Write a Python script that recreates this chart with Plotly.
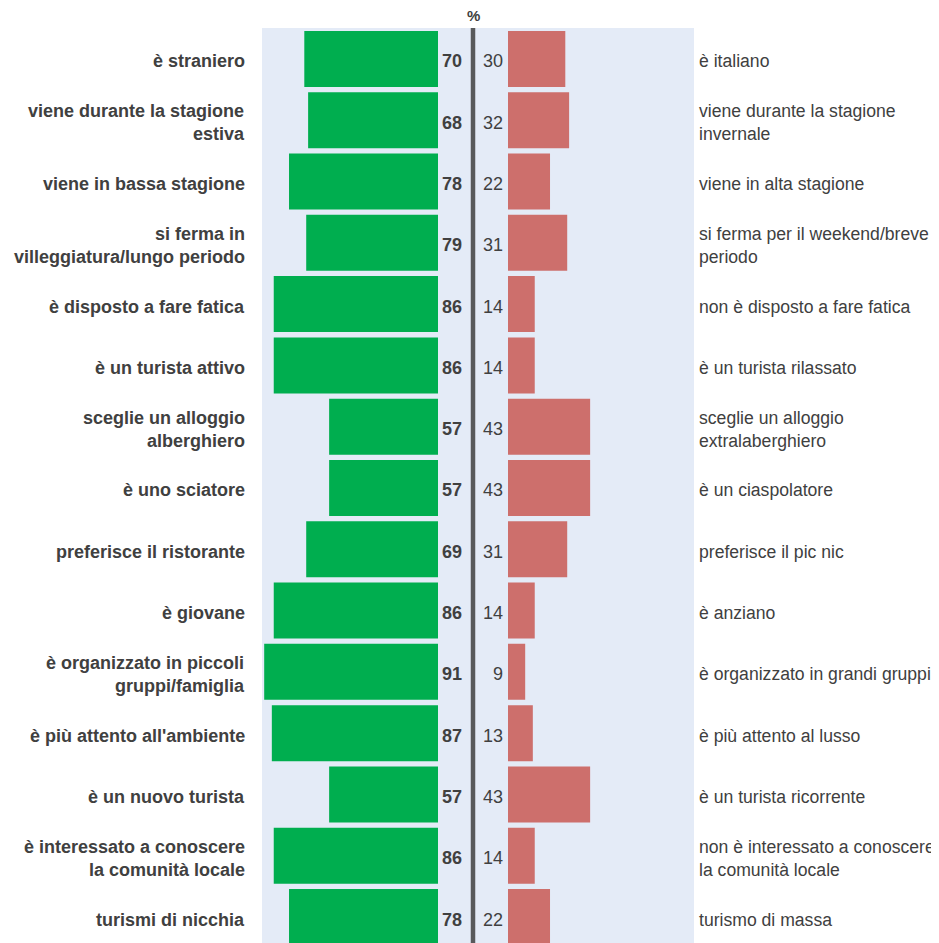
import plotly.graph_objects as go

left_labels = [
    "è straniero",
    "viene durante la stagione<br>estiva",
    "viene in bassa stagione",
    "si ferma in<br>villeggiatura/lungo periodo",
    "è disposto a fare fatica",
    "è un turista attivo",
    "sceglie un alloggio<br>alberghiero",
    "è uno sciatore",
    "preferisce il ristorante",
    "è giovane",
    "è organizzato in piccoli<br>gruppi/famiglia",
    "è più attento all'ambiente",
    "è un nuovo turista",
    "è interessato a conoscere<br>la comunità locale",
    "turismi di nicchia",
]
right_labels = [
    "è italiano",
    "viene durante la stagione<br>invernale",
    "viene in alta stagione",
    "si ferma per il weekend/breve<br>periodo",
    "non è disposto a fare fatica",
    "è un turista rilassato",
    "sceglie un alloggio<br>extralaberghiero",
    "è un ciaspolatore",
    "preferisce il pic nic",
    "è anziano",
    "è organizzato in grandi gruppi",
    "è più attento al lusso",
    "è un turista ricorrente",
    "non è interessato a conoscere<br>la comunità locale",
    "turismo di massa",
]
# bar lengths as drawn
green_values = [70, 68, 78, 69, 86, 86, 57, 57, 69, 86, 91, 87, 57, 86, 78]
# printed labels (source prints 79 on the 4th row)
green_text = ["70", "68", "78", "79", "86", "86", "57", "57", "69", "86", "91", "87", "57", "86", "78"]
red_values = [30, 32, 22, 31, 14, 14, 43, 43, 31, 14, 9, 13, 43, 14, 22]

OFF = 8                             # page body margin
W, H = 939 - OFF, 943 - OFF
PL, PR, PT, PB = 262 - OFF, 694 - OFF, 28 - OFF, 943 - OFF   # plot panel pixel edges (figure coords)
PXU = 1.91                          # pixels per percentage point
CENTER = 473 - OFF
GAP = (CENTER - (438 - OFF)) / PXU
XMIN = -(CENTER - PL) / PXU
XMAX = (PR - CENTER) / PXU

GREEN = "#00AE4F"
RED = "#CD6F6C"
BG = "#E4EBF7"
TXT = "#404040"
FONT = "Liberation Sans, Arial, sans-serif"
FS = 18
FS_R = 17.6
YS = -2.5

n = len(left_labels)
ys = list(range(n))

fig = go.Figure()
fig.add_trace(go.Bar(
    y=ys, x=[-v for v in green_values], base=-GAP, orientation="h",
    marker=dict(color=GREEN, line=dict(width=0)), width=0.914,
    hoverinfo="skip", showlegend=False))
fig.add_trace(go.Bar(
    y=ys, x=red_values, base=GAP, orientation="h",
    marker=dict(color=RED, line=dict(width=0)), width=0.914,
    hoverinfo="skip", showlegend=False))

def px_to_paper(px):
    return (px - OFF - PL) / (PR - PL)

def px_to_x(px):
    return (px - OFF - CENTER) / PXU

ann = []
for i in range(n):
    ann.append(dict(x=px_to_paper(246), xref="paper", y=i, yref="y", text="<b>%s</b>" % left_labels[i],
                    xanchor="right", yanchor="middle", align="right", showarrow=False, yshift=YS,
                    font=dict(family=FONT, size=FS, color=TXT), borderpad=0))
    ann.append(dict(x=px_to_paper(698), xref="paper", y=i, yref="y", text=right_labels[i],
                    xanchor="left", yanchor="middle", align="left", showarrow=False, yshift=YS,
                    font=dict(family=FONT, size=FS_R, color=TXT), borderpad=0))
    ann.append(dict(x=px_to_x(463), xref="x", y=i, yref="y", text="<b>%s</b>" % green_text[i],
                    xanchor="right", yanchor="middle", showarrow=False, yshift=YS,
                    font=dict(family=FONT, size=FS, color=TXT), borderpad=0))
    ann.append(dict(x=px_to_x(504), xref="x", y=i, yref="y", text=str(red_values[i]),
                    xanchor="right", yanchor="middle", showarrow=False, yshift=YS,
                    font=dict(family=FONT, size=FS, color=TXT), borderpad=0))
ann.append(dict(x=0, xref="x", y=1 + (PT - (15 - OFF)) / (PB - PT), yref="paper", text="<b>%</b>",
                xanchor="center", yanchor="middle", showarrow=False,
                font=dict(family=FONT, size=15, color=TXT), borderpad=0))

fig.update_layout(
    width=W, height=H,
    margin=dict(l=PL, r=W - PR, t=PT, b=H - PB, pad=0),
    paper_bgcolor="white", plot_bgcolor=BG,
    barmode="overlay",
    xaxis=dict(range=[XMIN, XMAX], visible=False, fixedrange=True),
    yaxis=dict(range=[n - 1 + 0.424, -0.505], visible=False, fixedrange=True),
    annotations=ann,
    shapes=[dict(type="line", xref="x", yref="paper", x0=0, x1=0, y0=0, y1=1,
                 line=dict(color="#58595B", width=4.5))],
)

fig.write_html("out.html")
